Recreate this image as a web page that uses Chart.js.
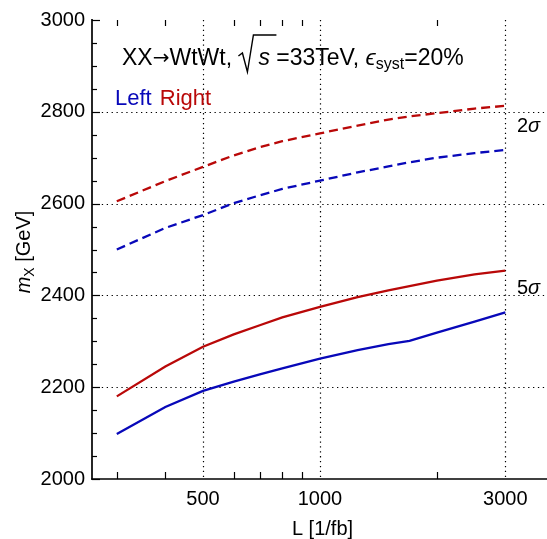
<!DOCTYPE html>
<html>
<head>
<meta charset="utf-8">
<script src="https://cdn.jsdelivr.net/npm/chart.js@4.4.1/dist/chart.umd.min.js"></script>
<style>
  html, body { margin: 0; padding: 0; background: #fff; }
  #wrap { width: 547px; height: 539px; position: relative; }
</style>
</head>
<body>
<div id="wrap"><canvas id="reach"></canvas></div>
<script>
// integrated luminosity [1/fb] and mass reach [GeV]
const LUMI = [300, 400, 500, 600, 700, 800, 1000, 1250, 1500, 1700, 2000, 2500, 3000];
const LEFT_5SIGMA = [2098, 2157, 2192, 2212, 2228, 2241, 2262, 2281, 2294, 2301, 2319, 2343, 2363];
const RIGHT_5SIGMA = [2180, 2245, 2288, 2315, 2335, 2352, 2375, 2396, 2411, 2420, 2432, 2446, 2454];
const LEFT_2SIGMA = [2500, 2547, 2575, 2601, 2618, 2632, 2650, 2668, 2681, 2690, 2700, 2710, 2717];
const RIGHT_2SIGMA = [2605, 2649, 2680, 2705, 2723, 2736, 2753, 2770, 2783, 2790, 2797, 2807, 2813];

const X_LABELS = [500, 1000, 3000];
const X_MINOR = [300, 400, 600, 700, 800, 900, 2000];
const Y_LABELS = [2000, 2200, 2400, 2600, 2800, 3000];
const Y_MINOR_STEP = 50;

const BLUE = "rgb(8, 8, 185)";
const RED = "rgb(185, 8, 8)";
const FONT = '"Liberation Sans", Arial, sans-serif';

function toPoints(values) {
  return LUMI.map((l, i) => ({ x: l, y: values[i] }));
}

function line(ctx, x1, y1, x2, y2) {
  ctx.beginPath();
  ctx.moveTo(x1, y1);
  ctx.lineTo(x2, y2);
  ctx.stroke();
}

// dotted grid, axis lines, inward ticks and the annotations
const framePlugin = {
  id: "frame",
  beforeDatasetsDraw(chart) {
    const { ctx, chartArea: a, scales: { x, y } } = chart;
    ctx.save();
    ctx.strokeStyle = "#000";
    ctx.lineWidth = 1.2;
    ctx.setLineDash([1.3, 3.6]);
    X_LABELS.forEach(v => {
      const px = Math.round(x.getPixelForValue(v)) + 0.5;
      line(ctx, px, a.top, px, a.bottom);
    });
    Y_LABELS.slice(1, -1).forEach(v => {
      const py = Math.round(y.getPixelForValue(v)) + 0.5;
      line(ctx, a.left, py, a.right, py);
    });
    ctx.restore();
  },
  afterDatasetsDraw(chart) {
    const { ctx, chartArea: a, scales: { x, y } } = chart;
    ctx.save();
    ctx.strokeStyle = "#000";
    ctx.lineWidth = 1.2;
    X_MINOR.forEach(v => {
      const px = Math.round(x.getPixelForValue(v)) + 0.5;
      line(ctx, px, a.bottom, px, a.bottom - 7);
      line(ctx, px, a.top, px, a.top + 6);
    });
    for (let v = Y_LABELS[0]; v <= Y_LABELS[Y_LABELS.length - 1]; v += Y_MINOR_STEP) {
      const py = Math.round(y.getPixelForValue(v)) + 0.5;
      const len = Y_LABELS.includes(v) ? 8 : 5;
      line(ctx, a.left, py, a.left + len, py);
    }
    ctx.lineWidth = 1.7;
    line(ctx, a.left, a.top - 1, a.left, a.bottom + 0.8);
    line(ctx, a.left - 0.8, a.bottom, a.right, a.bottom);

    // axis titles
    ctx.fillStyle = "#000";
    ctx.textBaseline = "alphabetic";
    ctx.textAlign = "center";
    ctx.font = `20px ${FONT}`;
    ctx.fillText("L [1/fb]", (a.left + a.right) / 2 + 3, 535);

    ctx.save();
    ctx.translate(29.5, 252);
    ctx.rotate(-Math.PI / 2);
    ctx.textAlign = "left";
    const parts = [
      { t: "m", f: `italic 20px ${FONT}`, dy: 0 },
      { t: "X", f: `14px ${FONT}`, dy: 4 },
      { t: " [GeV]", f: `20px ${FONT}`, dy: 0 }
    ];
    let w = 0;
    parts.forEach(p => { ctx.font = p.f; w += ctx.measureText(p.t).width; });
    let cx = -w / 2;
    parts.forEach(p => {
      ctx.font = p.f;
      ctx.fillText(p.t, cx, p.dy);
      cx += ctx.measureText(p.t).width;
    });
    ctx.restore();

    // process label
    ctx.textAlign = "left";
    let tx = 122;
    const base = 65;
    ctx.font = `23px ${FONT}`;
    ctx.fillText("XX", tx, base);
    tx += ctx.measureText("XX").width;
    ctx.font = `20px "DejaVu Sans", sans-serif`;
    ctx.fillText("→", tx, base - 1);
    tx += ctx.measureText("→").width;
    ctx.font = `23px ${FONT}`;
    ctx.fillText("WtWt,", tx, base);
    tx += ctx.measureText("WtWt, ").width;
    // radical over s
    ctx.lineWidth = 1.4;
    ctx.beginPath();
    ctx.moveTo(tx, base - 9);
    ctx.lineTo(tx + 4, base - 12);
    ctx.lineTo(tx + 9, base + 7);
    ctx.lineTo(tx + 15, base - 30);
    ctx.lineTo(tx + 38, base - 30);
    ctx.stroke();
    ctx.font = `italic 23px ${FONT}`;
    ctx.fillText("s", tx + 20, base);
    tx += 20 + ctx.measureText("s ").width;
    ctx.font = `23px ${FONT}`;
    ctx.fillText("=33TeV,", tx, base);
    tx += ctx.measureText("=33TeV, ").width;
    ctx.font = `italic 23px ${FONT}`;
    ctx.fillText("ϵ", tx, base);
    tx += ctx.measureText("ϵ").width;
    ctx.font = `16px ${FONT}`;
    ctx.fillText("syst", tx, base + 4);
    tx += ctx.measureText("syst").width;
    ctx.font = `23px ${FONT}`;
    ctx.fillText("=20%", tx, base);

    // legend words
    ctx.font = `22px ${FONT}`;
    ctx.fillStyle = BLUE;
    ctx.fillText("Left", 115, 105);
    const lw = ctx.measureText("Left ").width;
    ctx.fillStyle = RED;
    ctx.fillText("Right", 117 + lw, 105);

    // significance labels
    ctx.fillStyle = "#000";
    [["2", 132], ["5", 294]].forEach(([n, by]) => {
      ctx.font = `20px ${FONT}`;
      ctx.fillText(n, 517, by);
      const nw = ctx.measureText(n).width;
      ctx.font = `italic 20px ${FONT}`;
      ctx.fillText("σ", 517 + nw, by);
    });
    ctx.restore();
  }
};

function series(values, color, dashed) {
  return {
    data: toPoints(values),
    borderColor: color,
    borderWidth: 2.3,
    borderDash: dashed ? [9, 5] : [],
    pointRadius: 0,
    tension: 0,
    fill: false
  };
}

new Chart(document.getElementById("reach"), {
  type: "line",
  data: {
    datasets: [
      series(RIGHT_2SIGMA, RED, true),
      series(LEFT_2SIGMA, BLUE, true),
      series(RIGHT_5SIGMA, RED, false),
      series(LEFT_5SIGMA, BLUE, false)
    ]
  },
  options: {
    responsive: true,
    maintainAspectRatio: false,
    animation: false,
    layout: { padding: { top: 20, right: 0, left: 0, bottom: 0 } },
    plugins: { legend: { display: false }, tooltip: { enabled: false } },
    scales: {
      x: {
        type: "logarithmic",
        min: 259,
        max: 3840,
        afterBuildTicks(scale) {
          scale.ticks = X_LABELS.map(v => ({ value: v }));
        },
        afterFit(scale) {
          scale.height = 60;
        },
        grid: { display: false, drawTicks: false },
        border: { display: false },
        ticks: {
          autoSkip: false,
          maxRotation: 0,
          padding: 8,
          color: "#000",
          font: { family: FONT, size: 20 },
          callback: v => String(v)
        }
      },
      y: {
        min: 2000,
        max: 3000,
        afterBuildTicks(scale) {
          scale.ticks = Y_LABELS.map(v => ({ value: v }));
        },
        afterFit(scale) {
          scale.width = 92;
        },
        grid: { display: false, drawTicks: false },
        border: { display: false },
        ticks: {
          padding: 7,
          color: "#000",
          font: { family: FONT, size: 20 },
          callback: v => String(v)
        }
      }
    }
  },
  plugins: [framePlugin]
});
</script>
</body>
</html>
